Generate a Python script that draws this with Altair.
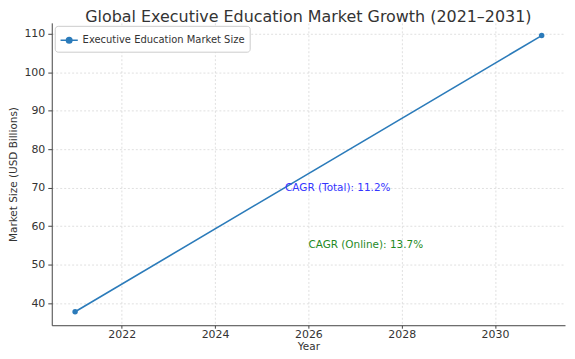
import altair as alt
import pandas as pd

years = [2021, 2031]
market_size = [37.8, 109.5]
series_name = "Executive Education Market Size"

ann_x = [2025.5, 2026]
ann_y = [70, 55]
ann_text = ["CAGR (Total): 11.2%", "CAGR (Online): 13.7%"]
ann_color = ["#3535ff", "#1f8a1f"]

x_ticks = [2022, 2024, 2026, 2028, 2030]
y_ticks = [40, 50, 60, 70, 80, 90, 100, 110]

df = pd.DataFrame({"Year": years, "Size": market_size, "series": [series_name] * len(years)})
ann = pd.DataFrame({"x": ann_x, "y": ann_y, "text": ann_text, "color": ann_color})

FONT = "DejaVu Sans"
xscale = alt.Scale(domain=[2020.5, 2031.5], nice=False, zero=False)
yscale = alt.Scale(domain=[34.3, 112.8], nice=False, zero=False)

legend_symbol = "M-1,0L1,0M-0.32,0a0.32,0.32 0 1,0 0.64,0a0.32,0.32 0 1,0 -0.64,0"

line = alt.Chart(df).mark_line(
    strokeWidth=1.6,
    point=alt.OverlayMarkDef(filled=True, size=30),
).encode(
    x=alt.X("Year:Q", scale=xscale,
            axis=alt.Axis(values=x_ticks, format="d", title="Year",
                          tickSize=3, labelPadding=0, titlePadding=2)),
    y=alt.Y("Size:Q", scale=yscale,
            axis=alt.Axis(values=y_ticks, title="Market Size (USD Billions)",
                          tickSize=4, labelPadding=3, titlePadding=5)),
    color=alt.Color("series:N",
                    scale=alt.Scale(range=["#2b7bba"]),
                    legend=alt.Legend(
                        title=None, orient="top-left", offset=3,
                        symbolType=legend_symbol, symbolSize=300,
                        symbolStrokeWidth=1.5, symbolFillColor="#2b7bba",
                        labelFontSize=10, labelFont=FONT, labelColor="#333",
                        labelLimit=400,
                        fillColor="white", strokeColor="#cccccc",
                        cornerRadius=3, padding=5,
                    )),
)

text = alt.Chart(ann).mark_text(
    align="left", baseline="middle", fontSize=10.5, font=FONT
).encode(
    x=alt.X("x:Q", scale=xscale),
    y=alt.Y("y:Q", scale=yscale),
    text="text:N",
    color=alt.Color("color:N", scale=None),
)

chart = (line + text).properties(
    width=516,
    height=304,
    title=alt.Title("Global Executive Education Market Growth (2021–2031)",
                    fontSize=16, font=FONT, fontWeight="normal",
                    color="#333", offset=0, dy=2),
    autosize=alt.AutoSizeParams(type="none"),
    padding={"left": 44, "top": 14, "right": 2, "bottom": 30},
).configure_view(
    stroke=None
).configure_axis(
    labelFont=FONT, titleFont=FONT, labelFontSize=11, titleFontSize=10.5,
    titleFontWeight="normal", labelColor="#333", titleColor="#333",
    domainColor="#444", tickColor="#444",
    gridColor="#d8d8d8", gridDash=[2, 2], gridWidth=0.8,
)

chart.save("out.html", embed_options={"renderer": "svg", "actions": False})
